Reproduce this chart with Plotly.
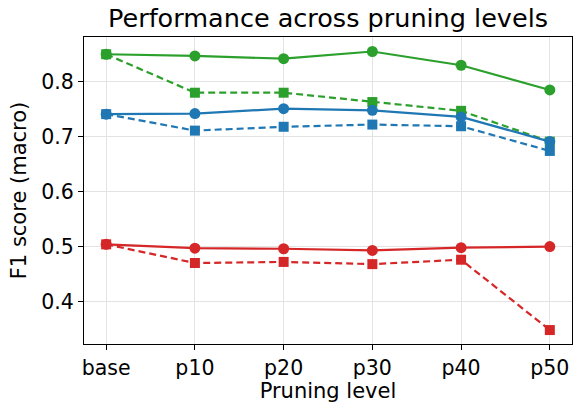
import plotly.graph_objects as go

categories = ["base", "p10", "p20", "p30", "p40", "p50"]

green_solid = [0.850, 0.847, 0.842, 0.855, 0.830, 0.785]
green_dashed = [0.850, 0.780, 0.780, 0.763, 0.747, 0.691]
blue_solid = [0.741, 0.742, 0.751, 0.748, 0.736, 0.691]
blue_dashed = [0.741, 0.711, 0.718, 0.722, 0.719, 0.674]
red_solid = [0.504, 0.497, 0.496, 0.493, 0.498, 0.500]
red_dashed = [0.504, 0.470, 0.472, 0.468, 0.476, 0.348]

GREEN = "#2ca02c"
BLUE = "#1f77b4"
RED = "#d62728"

series = [
    (green_solid, GREEN, "solid", "circle"),
    (green_dashed, GREEN, "7px,4px", "square"),
    (blue_solid, BLUE, "solid", "circle"),
    (blue_dashed, BLUE, "7px,4px", "square"),
    (red_solid, RED, "solid", "circle"),
    (red_dashed, RED, "7px,4px", "square"),
]

fig = go.Figure()
for vals, color, dash, sym in series:
    fig.add_trace(go.Scatter(
        x=categories, y=vals, mode="lines+markers",
        line=dict(color=color, width=2.2, dash=dash),
        marker=dict(color=color, size=11 if sym == "circle" else 10, symbol=sym),
        showlegend=False, cliponaxis=False,
    ))

font = "DejaVu Sans"
fig.update_layout(
    width=573, height=403,
    margin=dict(l=84, r=1, t=37, b=59, autoexpand=False),
    paper_bgcolor="white", plot_bgcolor="white",
    font=dict(family=font, color="black", size=20),
    title=dict(text="Performance across pruning levels", x=0.5, xref="paper",
               y=1 - 18 / 403, yref="container", yanchor="middle", xanchor="center",
               font=dict(size=25.5, family=font, color="black"), automargin=False),
    xaxis=dict(type="category", categoryorder="array", categoryarray=categories,
               range=[-0.25, 5.25], automargin=False,
               title=dict(text="Pruning level", font=dict(size=21), standoff=4),
               showline=True, linecolor="black", linewidth=1, mirror=True,
               ticks="outside", ticklen=5, tickcolor="black",
               showgrid=True, gridcolor="#e3e3e3", gridwidth=1,
               tickfont=dict(size=20.5), zeroline=False),
    yaxis=dict(range=[0.3226, 0.8814], tickvals=[0.4, 0.5, 0.6, 0.7, 0.8],
               ticktext=["0.4", "0.5", "0.6", "0.7", "0.8"], automargin=False,
               title=dict(text="F1 score (macro)", font=dict(size=21), standoff=8),
               showline=True, linecolor="black", linewidth=1, mirror=True,
               ticks="outside", ticklen=5, tickcolor="black",
               showgrid=True, gridcolor="#e3e3e3", gridwidth=1,
               tickfont=dict(size=20.5), zeroline=False),
)

fig.write_html("out.html", config={"displayModeBar": False},
               post_script="document.body.style.margin='0';")
